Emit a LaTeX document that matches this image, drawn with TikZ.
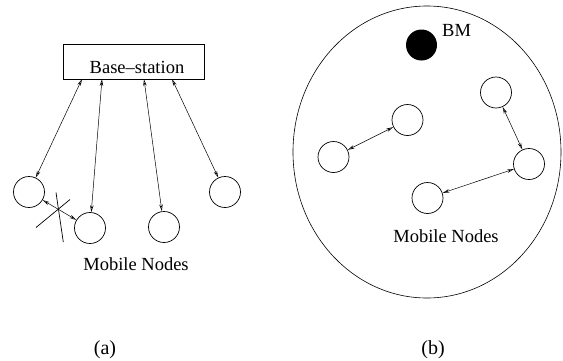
\documentclass[tikz,border=0pt]{standalone}
\usepackage{fontspec}
\setmainfont{Liberation Serif}
\usetikzlibrary{arrows.meta,shapes.geometric}
\begin{document}
\begin{tikzpicture}[x=1pt,y=-1pt,
  lbl/.style={font=\fontsize{18.5}{20}\selectfont, inner sep=0pt, anchor=base},
  sublbl/.style={font=\fontsize{20}{22}\selectfont, inner sep=0pt, anchor=base},
  mnode/.style={circle, draw, line width=0.7pt, minimum size=31pt, inner sep=0pt},
  link/.style={line width=0.5pt, {Stealth[open,length=7pt,width=3.5pt]}-{Stealth[open,length=7pt,width=3.5pt]}},
  cross/.style={line width=0.7pt}
  ]
\useasboundingbox (0,0) rectangle (563,360);
% (a)
\node[draw, line width=0.7pt, minimum width=141pt, minimum height=35pt, inner sep=0pt] (bs) at (133.5,61.5) {};
\node[lbl] (bst) at (137,73) {Base--station};
\node[mnode] (a1) at (29,192) {};
\node[mnode] (a2) at (90,228) {};
\node[mnode] (a3) at (164,227) {};
\node[mnode] (a4) at (225,192) {};
\coordinate (p1) at (82,79);
\coordinate (p2) at (102,79);
\coordinate (p3) at (144,79);
\coordinate (p4) at (172,79);
\draw[link] (p1) -- (a1);
\draw[link] (p2) -- (a2);
\draw[link] (p3) -- (a3);
\draw[link] (p4) -- (a4);
\draw[link] (a1) -- (a2);
\coordinate (x1) at (36,227.5);
\coordinate (x2) at (70,199.5);
\coordinate (x3) at (56,192.5);
\coordinate (x4) at (63.3,242);
\draw[cross] (x1) -- (x2);
\draw[cross] (x3) -- (x4);
\node[lbl] (mna) at (136,270) {Mobile Nodes};
\node[sublbl] (la) at (105,354) {(a)};
% (b)
\node[draw, ellipse, line width=0.6pt, minimum width=268pt, minimum height=292pt, inner sep=0pt] (net) at (427,152) {};
\node[circle, fill=black, minimum size=31pt, inner sep=0pt] (bm) at (421.5,45) {};
\node[lbl, anchor=base west] (bmt) at (442,36) {BM};
\node[mnode] (b1) at (333.5,157) {};
\node[mnode] (b2) at (407.5,120) {};
\node[mnode] (b3) at (496,92.5) {};
\node[mnode] (b4) at (529,164) {};
\node[mnode] (b5) at (427.5,198) {};
\draw[link] (b1) -- (b2);
\draw[link] (b3) -- (b4);
\draw[link] (b5) -- (b4);
\node[lbl] (mnb) at (446,242) {Mobile Nodes};
\node[sublbl] (lb) at (433,354) {(b)};
\end{tikzpicture}
\end{document}
